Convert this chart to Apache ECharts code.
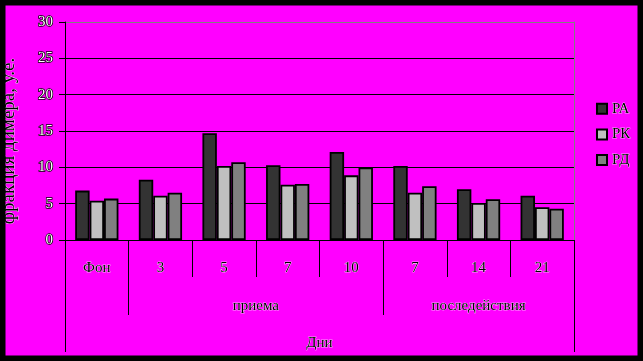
<!DOCTYPE html>
<html>
<head>
<meta charset="utf-8">
<script src="https://cdn.jsdelivr.net/npm/echarts@6/dist/echarts.min.js"></script>
<style>html,body{margin:0;padding:0;background:#000;}#c{width:643px;height:361px;}</style>
</head>
<body>
<div id="c"></div>
<script>
const categories = ['Фон', '3', '5', '7', '10', '7', '14', '21'];
const groupNames = ['', 'приема', 'последействия'];
const groupSpans = [1, 4, 3];
const topLabel = 'Дни';
const yTicks = ['0', '5', '10', '15', '20', '25', '30'];
const seriesNames = ['РА', 'РК', 'РД'];
const valuesRA = [6.8, 8.3, 14.7, 10.3, 12.1, 10.2, 7.0, 6.1];
const valuesRK = [5.4, 6.1, 10.2, 7.6, 8.9, 6.5, 5.1, 4.5];
const valuesRD = [5.7, 6.5, 10.7, 7.7, 10.0, 7.4, 5.6, 4.3];
const yTitle = 'фракция димера, у.е.';

// build half-unit positions for level-2 axis
const halfData = [];
const halfTicks = new Set();
const halfLabels = {};
let pos = 0;
for (let i = 0; i < groupSpans.length; i++) {
  halfTicks.add(pos * 2);
  halfLabels[pos * 2 + groupSpans[i]] = groupNames[i];
  pos += groupSpans[i];
}
halfTicks.add(pos * 2);
for (let i = 0; i <= pos * 2; i++) halfData.push(halfLabels[i] || '');

const chart = echarts.init(document.getElementById('c'), null, {renderer: 'canvas'});
const serif = '"Liberation Serif", "Times New Roman", serif';
const digitStyle = {color: '#fff', textBorderColor: '#000', textBorderWidth: 1.5, fontFamily: serif, fontSize: 15};
const wordStyle = {color: '#000', textBorderColor: '#fff', textBorderWidth: 0.6, fontFamily: serif, fontSize: 15};
const colors = ['#333333', '#c0c0c0', '#808080'];
const vals = [valuesRA, valuesRK, valuesRD];

chart.setOption({
  backgroundColor: '#ff00ff',
  animation: false,
  grid: {left: 65, right: 69, top: 22, bottom: 121, containLabel: false},
  legend: {
    orient: 'vertical', left: 591, top: 96,
    itemWidth: 10, itemHeight: 10, itemGap: 10,
    icon: 'rect',
    data: seriesNames,
    textStyle: {color: '#000', textBorderColor: '#fff', textBorderWidth: 0.6, fontFamily: serif, fontSize: 15, lineHeight: 15}
  },
  xAxis: [
    {
      type: 'category', data: categories, position: 'bottom', boundaryGap: true,
      axisLine: {show: true, lineStyle: {color: '#000', width: 1}},
      axisTick: {show: true, length: 37, lineStyle: {color: '#000', width: 1}},
      axisLabel: Object.assign({margin: 21, interval: 0}, wordStyle, {
        formatter: v => v
      })
    },
    {
      type: 'category', data: halfData, position: 'bottom', boundaryGap: false,
      axisLine: {show: false},
      axisTick: {show: true, length: 75, interval: (i) => halfTicks.has(i) && i !== 0 && i !== halfData.length - 1, lineStyle: {color: '#000', width: 1}},
      axisLabel: Object.assign({margin: 59, interval: (i, v) => v !== ''}, wordStyle)
    },
    {
      type: 'category', data: [topLabel], position: 'bottom', boundaryGap: true,
      axisLine: {show: false},
      axisTick: {show: true, length: 112, lineStyle: {color: '#000', width: 1}},
      axisLabel: Object.assign({margin: 96, interval: 0}, wordStyle)
    }
  ],
  yAxis: [
    {
      type: 'value', min: 0, max: 30, interval: 5,
      axisLine: {show: true, lineStyle: {color: '#000', width: 1}},
      axisTick: {show: true, length: 6, lineStyle: {color: '#000'}},
      axisLabel: Object.assign({margin: 12, formatter: (v) => yTicks[Math.round(v / 5)]}, digitStyle),
      splitLine: {show: true, lineStyle: {color: ['#000', '#000', '#000', '#000', '#000', '#000', '#808080'], width: 1}}
    },
    {
      type: 'value', min: 0, max: 30, interval: 5, position: 'right',
      axisLine: {show: true, lineStyle: {color: '#808080', width: 1}},
      axisTick: {show: false}, axisLabel: {show: false}, splitLine: {show: false}
    }
  ],
  series: seriesNames.map((n, i) => ({
    name: n, type: 'bar', data: vals[i], xAxisIndex: 0, yAxisIndex: 0,
    barGap: '0%', barCategoryGap: '32%',
    itemStyle: {color: colors[i], borderColor: '#000', borderWidth: 1.8}
  })),
  graphic: [
    {
      type: 'text', x: 9, y: 141, rotation: Math.PI / 2,
      style: {text: yTitle, fill: '#000', stroke: '#fff', lineWidth: 0.6, font: '19px ' + serif, align: 'center', verticalAlign: 'middle'},
      z: 50
    },
    {
      type: 'rect', shape: {x: 0, y: 0, width: 643, height: 361},
      style: {fill: 'none', stroke: '#000', lineWidth: 11}, z: 100, silent: true
    }
  ]
});
</script>
</body>
</html>
